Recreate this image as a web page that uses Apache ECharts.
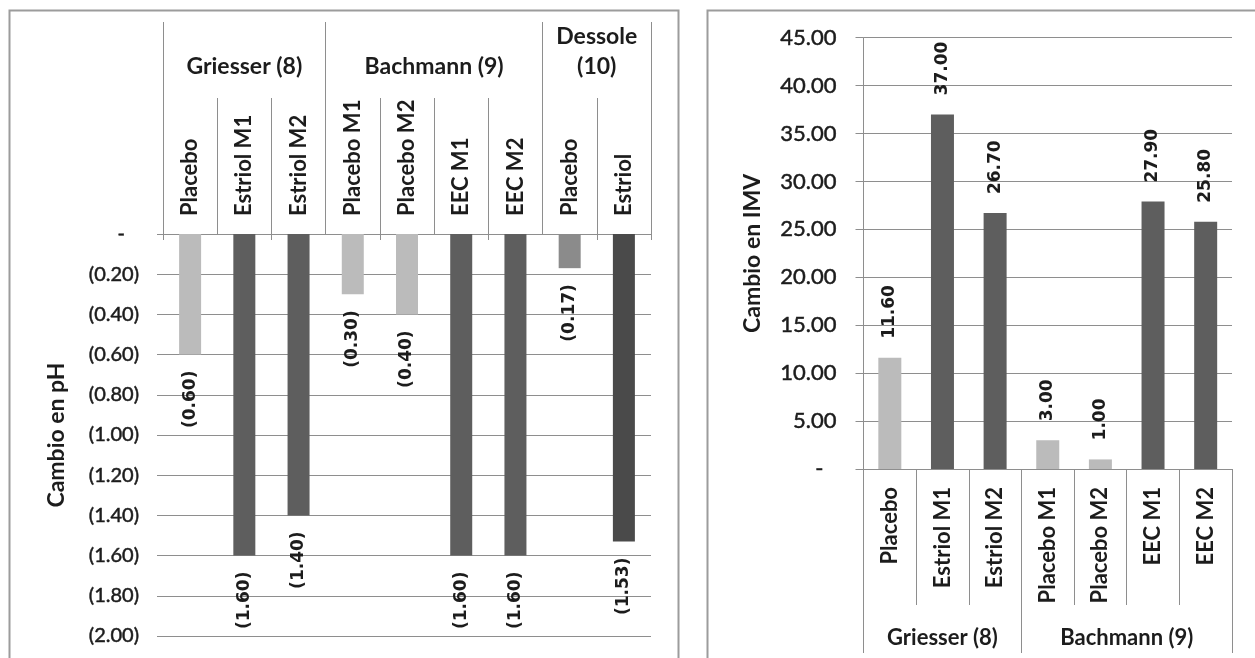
<!DOCTYPE html>
<html>
<head>
<meta charset="utf-8">
<title>Cambio en pH e IMV</title>
<script src="https://cdn.jsdelivr.net/npm/echarts@6/dist/echarts.min.js"></script>
<style>
  html, body { margin: 0; padding: 0; background: #ffffff; }
  #chart { width: 1255px; height: 658px; }
</style>
</head>
<body>
<div id="chart"></div>
<script>
// ---- pH change per study arm ----
const categoriesPH = ['Placebo', 'Estriol M1', 'Estriol M2', 'Placebo M1', 'Placebo M2', 'EEC M1', 'EEC M2', 'Placebo', 'Estriol'];
const changePH = [-0.60, -1.60, -1.40, -0.30, -0.40, -1.60, -1.60, -0.17, -1.53];
const studiesPH = ['Griesser (8)', 'Bachmann (9)', 'Dessole\n(10)'];
const armsPerStudyPH = [3, 4, 2];
const rangePH = { min: -2, max: 0, step: 0.2 };

// ---- vaginal maturation index (IMV) change per study arm ----
const categoriesIMV = ['Placebo', 'Estriol M1', 'Estriol M2', 'Placebo M1', 'Placebo M2', 'EEC M1', 'EEC M2'];
const changeIMV = [11.60, 37.00, 26.70, 3.00, 1.00, 27.90, 25.80];
const studiesIMV = ['Griesser (8)', 'Bachmann (9)'];
const armsPerStudyIMV = [3, 4];
const rangeIMV = { min: 0, max: 45, step: 5 };

// bar shades
const LIGHT = '#bbbbbb', DARK = '#5e5e5e', MID = '#8b8b8b', DARKER = '#4a4a4a';
const shadesPH = [LIGHT, DARK, DARK, LIGHT, LIGHT, DARK, DARK, MID, DARKER];
const shadesIMV = [LIGHT, DARK, DARK, LIGHT, LIGHT, DARK, DARK];

const GRID_LINE = '#8e8e8e';
const TEXT = '#1c1c1c';
const FONT = 'Lato';

// slightly heavier regular text for the value-axis numbers
const tickText = { fontFamily: FONT, color: TEXT, textBorderColor: TEXT, textBorderWidth: 0.5 };

// study boundaries and centres on a 0..n scale
function studyLayout(sizes) {
  const bounds = [0];
  const centres = [];
  sizes.forEach(function (n) {
    const start = bounds[bounds.length - 1];
    centres.push(start + n / 2);
    bounds.push(start + n);
  });
  return { bounds: bounds, centres: centres, total: bounds[bounds.length - 1] };
}
const layoutPH = studyLayout(armsPerStudyPH);
const layoutIMV = studyLayout(armsPerStudyIMV);

function dash() { return '{d|-}'; }

const chart = echarts.init(document.getElementById('chart'), null, { renderer: 'canvas' });

chart.setOption({
  animation: false,
  backgroundColor: '#ffffff',
  graphic: [
    { type: 'rect', shape: { x: 9.5, y: 10.5, width: 669, height: 700 },
      style: { fill: 'none', stroke: '#9c9c9c', lineWidth: 2 }, silent: true },
    { type: 'rect', shape: { x: 707.5, y: 10.5, width: 600, height: 700 },
      style: { fill: 'none', stroke: '#9c9c9c', lineWidth: 2 }, silent: true }
  ],
  grid: [
    { left: 163, top: 234, width: 488, height: 402, containLabel: false },
    { left: 863.5, top: 37.7, width: 368.5, height: 431.3, containLabel: false }
  ],
  xAxis: [
    // 0: pH arm names, above the zero line (read bottom to top)
    {
      type: 'category', gridIndex: 0, position: 'top', data: categoriesPH,
      axisLine: { show: true, onZero: false, lineStyle: { color: GRID_LINE, width: 1 } },
      axisTick: { show: true, length: 136, lineStyle: { color: GRID_LINE } },
      axisLabel: { rotate: -90, margin: 18, interval: 0, fontFamily: FONT, fontWeight: 'bold', fontSize: 22, color: TEXT },
      splitLine: { show: false }
    },
    // 1: pH study headers
    {
      type: 'value', gridIndex: 0, position: 'top', min: 0, max: layoutPH.total,
      axisLine: { show: false, onZero: false },
      axisTick: { show: true, length: 212, customValues: layoutPH.bounds, lineStyle: { color: GRID_LINE } },
      axisLabel: {
        customValues: layoutPH.centres, margin: 152, lineHeight: 30,
        fontFamily: FONT, fontWeight: 'bold', fontSize: 23, color: TEXT,
        formatter: function (v) { return studiesPH[layoutPH.centres.indexOf(v)] || ''; }
      },
      splitLine: { show: false }
    },
    // 2: short divider stubs below the pH zero line
    {
      type: 'category', gridIndex: 0, position: 'top', data: categoriesPH,
      axisLine: { show: false, onZero: false },
      axisTick: { show: true, inside: true, length: 6, lineStyle: { color: GRID_LINE } },
      axisLabel: { show: false },
      splitLine: { show: false }
    },
    // 3: IMV arm names
    {
      type: 'category', gridIndex: 1, position: 'bottom', data: categoriesIMV,
      axisLine: { show: true, onZero: false, lineStyle: { color: GRID_LINE, width: 1 } },
      axisTick: { show: true, length: 136, lineStyle: { color: GRID_LINE } },
      axisLabel: { rotate: 90, margin: 18, interval: 0, fontFamily: FONT, fontWeight: 'bold', fontSize: 22, color: TEXT },
      splitLine: { show: false }
    },
    // 4: IMV study headers
    {
      type: 'value', gridIndex: 1, position: 'bottom', min: 0, max: layoutIMV.total,
      axisLine: { show: false, onZero: false },
      axisTick: { show: true, length: 184, customValues: layoutIMV.bounds, lineStyle: { color: GRID_LINE } },
      axisLabel: {
        customValues: layoutIMV.centres, margin: 154, lineHeight: 30,
        fontFamily: FONT, fontWeight: 'bold', fontSize: 22, color: TEXT,
        formatter: function (v) { return studiesIMV[layoutIMV.centres.indexOf(v)] || ''; }
      },
      splitLine: { show: false }
    }
  ],
  yAxis: [
    {
      type: 'value', gridIndex: 0, min: rangePH.min, max: rangePH.max, interval: rangePH.step,
      name: 'Cambio en pH', nameLocation: 'middle', nameGap: 95, nameRotate: 90,
      nameTextStyle: { fontFamily: FONT, fontWeight: 'bold', fontSize: 23, color: TEXT },
      axisLine: { show: false, onZero: false },
      axisTick: { show: true, length: 6, lineStyle: { color: GRID_LINE } },
      splitLine: { show: true, lineStyle: { color: GRID_LINE, width: 1 } },
      axisLabel: Object.assign({
        margin: 24, fontSize: 20,
        rich: { d: Object.assign({ fontSize: 20, padding: [0, 14, 0, 0] }, tickText) },
        formatter: function (v) {
          if (Math.abs(v) < 1e-9) return dash();
          return '(' + Math.abs(v).toFixed(2) + ')';
        }
      }, tickText)
    },
    {
      type: 'value', gridIndex: 1, min: rangeIMV.min, max: rangeIMV.max, interval: rangeIMV.step,
      name: 'Cambio en IMV', nameLocation: 'middle', nameGap: 99, nameRotate: 90,
      nameTextStyle: { fontFamily: FONT, fontWeight: 'bold', fontSize: 23, color: TEXT },
      axisLine: { show: true, onZero: false, lineStyle: { color: GRID_LINE, width: 1 } },
      axisTick: { show: true, length: 8, lineStyle: { color: GRID_LINE } },
      splitLine: { show: true, lineStyle: { color: GRID_LINE, width: 1 } },
      axisLabel: Object.assign({
        margin: 27, fontSize: 22,
        rich: { d: Object.assign({ fontSize: 22, padding: [0, 13, 0, 0] }, tickText) },
        formatter: function (v) {
          if (Math.abs(v) < 1e-9) return dash();
          return v.toFixed(2);
        }
      }, tickText)
    }
  ],
  series: [
    {
      name: 'Cambio en pH', type: 'bar', xAxisIndex: 0, yAxisIndex: 0, barWidth: 22,
      data: changePH.map(function (v, i) { return { value: v, itemStyle: { color: shadesPH[i] } }; }),
      label: {
        show: true, position: 'bottom', distance: 16, rotate: 90, align: 'right', verticalAlign: 'middle',
        fontFamily: 'DejaVu Sans', fontWeight: 'bold', fontSize: 17, color: TEXT,
        formatter: function (p) { return '(' + Math.abs(p.value).toFixed(2) + ')'; }
      }
    },
    {
      name: 'Cambio en IMV', type: 'bar', xAxisIndex: 3, yAxisIndex: 1, barWidth: 23,
      data: changeIMV.map(function (v, i) { return { value: v, itemStyle: { color: shadesIMV[i] } }; }),
      label: {
        show: true, position: 'top', distance: 19, rotate: 90, align: 'left', verticalAlign: 'middle',
        fontFamily: 'DejaVu Sans', fontWeight: 'bold', fontSize: 17, color: TEXT,
        formatter: function (p) { return p.value.toFixed(2); }
      }
    }
  ]
});
</script>
</body>
</html>
